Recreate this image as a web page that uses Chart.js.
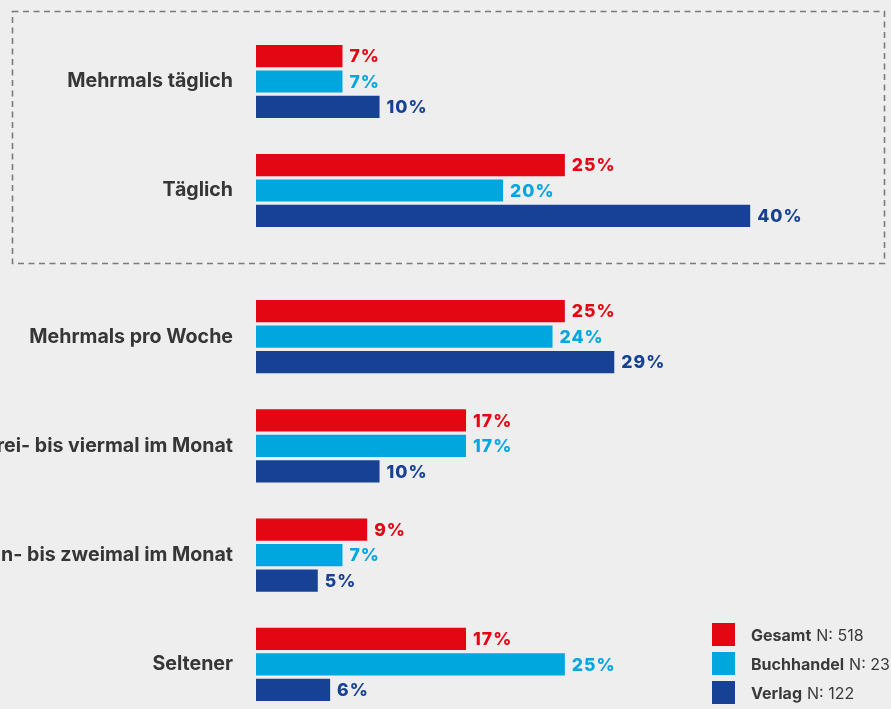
<!DOCTYPE html>
<html><head><meta charset="utf-8">
<script src="https://cdn.jsdelivr.net/npm/chart.js@4/dist/chart.umd.min.js"></script>
<style>
html,body{margin:0;padding:0;background:#eeeeee;width:891px;height:709px;overflow:hidden;position:relative;font-family:Inter,"Noto Sans",sans-serif;}
#box{position:absolute;left:0;top:0;}
#c1wrap{position:absolute;left:0;top:0;width:891px;height:272px;}
#c2wrap{position:absolute;left:0;top:255px;width:891px;height:480px;}
#legend{position:absolute;left:712px;top:623px;font-size:16px;color:#3a3a3a;}
#legend .row{display:flex;align-items:center;height:23px;margin-bottom:6px;white-space:nowrap;}
#legend .sw{width:23px;height:23px;margin-right:16px;flex:none;}
#legend b{font-weight:700;margin-right:5px;}
</style></head><body>
<svg id="box" width="891" height="280"><rect x="12.5" y="11.5" width="872" height="252" fill="none" stroke="#7a7a7a" stroke-width="1.6" stroke-dasharray="6 4.5"/></svg>
<div id="c1wrap"><canvas id="c1" width="891" height="272"></canvas></div>
<div id="c2wrap"><canvas id="c2" width="891" height="480"></canvas></div>
<div id="legend"></div>
<script>
const categoriesTop = ["Mehrmals täglich", "Täglich"];
const categoriesBottom = ["Mehrmals pro Woche", "Drei- bis viermal im Monat", "Ein- bis zweimal im Monat", "Seltener"];
const seriesNames = ["Gesamt", "Buchhandel", "Verlag"];
const seriesN = ["N: 518", "N: 234", "N: 122"];
const gesamt = [7, 25, 25, 17, 9, 17];
const buchhandel = [7, 20, 24, 17, 7, 25];
const verlag = [10, 40, 29, 10, 5, 6];
const colors = ["#e30613", "#00a6de", "#174194"];

const allSeries = [gesamt, buchhandel, verlag];

const valueLabels = {
  id: 'valueLabels',
  afterDatasetsDraw(chart) {
    const ctx = chart.ctx;
    ctx.save();
    ctx.font = '800 17.6px Inter, "Noto Sans", sans-serif';
    ctx.letterSpacing = '1px';
    ctx.textBaseline = 'middle';
    ctx.textAlign = 'left';
    chart.data.datasets.forEach((ds, di) => {
      const meta = chart.getDatasetMeta(di);
      meta.data.forEach((bar, i) => {
        ctx.fillStyle = ds.backgroundColor;
        ctx.fillText(ds.data[i] + '%', bar.x + 7, bar.y + 1);
      });
    });
    ctx.restore();
  }
};

function makeChart(id, labels, from, to, top, bottom) {
  return new Chart(document.getElementById(id), {
    type: 'bar',
    data: {
      labels: labels,
      datasets: allSeries.map((s, k) => ({
        label: seriesNames[k],
        data: s.slice(from, to),
        backgroundColor: colors[k],
        categoryPercentage: 0.7,
        barPercentage: 0.87
      }))
    },
    options: {
      indexAxis: 'y',
      responsive: false,
      animation: false,
      layout: { padding: { top: top, bottom: bottom, left: 0, right: 0 } },
      plugins: { legend: { display: false }, tooltip: { enabled: false } },
      scales: {
        x: { display: false, min: 0, max: 51.4 },
        y: {
          grid: { display: false, drawTicks: false },
          border: { display: false },
          ticks: { color: '#363636', padding: 23, font: { family: 'Inter, "Noto Sans", sans-serif', size: 19.6, weight: 700 } },
          afterFit: (scale) => { scale.width = 256; scale.paddingTop = 0; scale.paddingBottom = 0; }
        }
      }
    },
    plugins: [valueLabels]
  });
}

makeChart('c1', categoriesTop, 0, 2, 27, 27);
makeChart('c2', categoriesBottom, 2, 6, 27, 16);

const lg = document.getElementById('legend');
seriesNames.forEach((n, k) => {
  const r = document.createElement('div');
  r.className = 'row';
  r.innerHTML = '<span class="sw" style="background:' + colors[k] + '"></span><b>' + n + '</b>' + seriesN[k];
  lg.appendChild(r);
});
</script>
</body></html>
